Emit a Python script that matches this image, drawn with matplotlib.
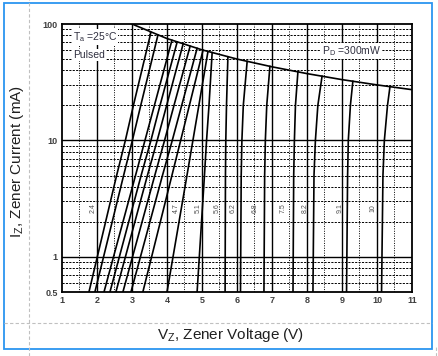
import matplotlib
matplotlib.use("Agg")
import matplotlib.pyplot as plt
from matplotlib.lines import Line2D
from matplotlib.patches import Rectangle

plt.rcParams["mathtext.fontset"] = "custom"
plt.rcParams["mathtext.rm"] = "Liberation Sans"
plt.rcParams["mathtext.it"] = "Liberation Sans:italic"
plt.rcParams["mathtext.bf"] = "Liberation Sans:bold"

# ---------------- data ----------------
curve_labels = ["2.4", None, None, None, None, None, None, None, "4.7", "5.1",
                "5.6", "6.2", "6.8", "7.5", "8.2", "9.1", "10"]
# currents (mA) at which each curve's voltage was read
i_points = [0.5, 5, 10, 20]
# Zener voltage at 0.5, 5, 10, 20 mA
v_at_05 = [1.77, 1.94, 2.20, 2.37, 2.54, 2.74, 2.97, 3.31, 4.00, 4.86,
           5.66, 6.10, 6.77, 7.60, 8.17, 9.13, 10.13]
v_at_5 = [2.56, 2.76, 3.10, 3.26, 3.44, 3.65, 3.87, 4.14, 4.57, 5.07,
          5.67, 6.12, 6.79, 7.62, 8.20, 9.16, 10.17]
v_at_10 = [2.81, 3.01, 3.37, 3.54, 3.72, 3.93, 4.15, 4.39, 4.74, 5.13,
           5.68, 6.14, 6.81, 7.64, 8.24, 9.18, 10.21]
v_at_20 = [3.04, 3.25, 3.64, 3.80, 3.99, 4.20, 4.42, 4.64, 4.91, 5.20,
           5.70, 6.18, 6.85, 7.67, 8.31, 9.24, 10.30]
# top end of each curve (on the Pd curve)
v_at_top = [3.54, 3.74, 4.14, 4.29, 4.46, 4.66, 4.86, 5.03, 5.17, 5.29,
            5.74, 6.29, 6.94, 7.74, 8.43, 9.31, 10.37]
i_at_top = [84.7, 80.2, 72.4, 70.0, 67.3, 64.4, 61.8, 59.7, 58.0, 56.8,
            52.3, 47.7, 43.2, 38.8, 35.6, 32.2, 28.9]

# label positions (voltage) for the curve labels
label_v = [1.88, None, None, None, None, None, None, None, 4.28, 4.89,
           5.43, 5.89, 6.51, 7.31, 7.94, 8.94, 9.89]
label_i = 2.64

# Power dissipation limit curve (Pd = 300 mW), read points
pd_v = [3, 4, 5, 6, 7, 8, 9, 10, 11]
pd_i = [100, 75, 60, 50, 42.9, 37.5, 33.3, 30, 27.3]

x_ticks = [1, 2, 3, 4, 5, 6, 7, 8, 9, 10, 11]
y_ticks = [0.5, 1, 10, 100]
y_tick_labels = ["0.5", "1", "10", "100"]

# ---------------- figure ----------------
W, H = 439, 356
fig = plt.figure(figsize=(W / 100, H / 100), dpi=100)
fig.patch.set_facecolor("white")

ax = fig.add_axes([62 / W, (H - 292) / H, 350 / W, 268 / H])
ax.set_yscale("log")
ax.set_xlim(1, 11)
ax.set_ylim(0.5, 100)

# grid
dash = (0, (2.2, 1.3))
for v in [1.5 + k for k in range(10)]:
    ax.axvline(v, color="black", lw=0.7, ls=(0, (1, 1.5)), zorder=1)
for v in range(2, 11):
    ax.axvline(v, color="black", lw=1.0, zorder=1)
minor_i = [0.6, 0.7, 0.8, 0.9] + list(range(2, 10)) + [20, 30, 40, 50, 60, 70, 80, 90]
for i in minor_i:
    ax.axhline(i, color="black", lw=0.7, ls=dash, zorder=1)
for i in [1, 10]:
    ax.axhline(i, color="black", lw=1.0, zorder=1)

# zener curves: points below the top end, then the top end
for k in range(len(v_at_05)):
    vs = [v_at_05[k], v_at_5[k], v_at_10[k], v_at_20[k]]
    pv = [v for v, i in zip(vs, i_points) if i < i_at_top[k]] + [v_at_top[k]]
    pi = [i for i in i_points if i < i_at_top[k]] + [i_at_top[k]]
    ax.plot(pv, pi, color="black", lw=1.2, zorder=3, solid_joinstyle="round")

# Pd curve
ax.plot(pd_v, pd_i, color="black", lw=1.2, zorder=3)

# curve labels
for lab, lv in zip(curve_labels, label_v):
    if lab is None:
        continue
    ax.text(lv, label_i, lab, rotation=90, ha="center", va="center",
            fontsize=5, color="#505050", family="Liberation Sans", zorder=4)

# annotations
ann_kw = dict(fontsize=7.5, color="#303040", family="Liberation Sans",
              va="center", ha="left", zorder=5,
              bbox=dict(facecolor="white", edgecolor="none", pad=0.8))
ax.text(1.31, 77, r"T$_\mathregular{a}$ =25°C", **ann_kw)
ax.text(1.31, 54, "Pulsed", **ann_kw)
ax.text(8.43, 58.6, r"P$_\mathregular{D}$ =300mW", **ann_kw)

# ticks
ax.set_xticks(x_ticks)
ax.set_xticklabels([str(t) for t in x_ticks])
ax.set_yticks(y_ticks)
ax.set_yticklabels(y_tick_labels)
ax.minorticks_off()
ax.tick_params(length=0, labelsize=6.5, labelcolor="#404040", pad=3)
for lab in ax.get_xticklabels() + ax.get_yticklabels():
    lab.set_family("Liberation Sans")
    lab.set_fontweight("bold")
for s in ax.spines.values():
    s.set_linewidth(1.3)
    s.set_color("black")
    s.set_zorder(6)

# axis titles (in figure pixels)
fig.text(231 / W, 1 - 335 / H, r"V$_\mathregular{Z}$, Zener Voltage (V)",
         ha="center", va="center", fontsize=11, family="Liberation Sans",
         color="#202020")
fig.text(17 / W, 1 - 161 / H, r"I$_\mathregular{Z}$, Zener Current (mA)",
         ha="center", va="center", rotation=90, fontsize=11,
         family="Liberation Sans", color="#202020")

# frame decorations
fig.add_artist(Line2D([29 / W, 29 / W], [0, 1], transform=fig.transFigure,
                      color="#c0c0c0", lw=0.8, ls=(0, (3, 2))))
fig.add_artist(Line2D([4.5 / W, 432 / W], [1 - 322.5 / H, 1 - 322.5 / H],
                      transform=fig.transFigure, color="#c0c0c0", lw=0.8,
                      ls=(0, (3, 2))))
fig.add_artist(Line2D([436 / W, 436 / W], [0, 1 - 346 / H], transform=fig.transFigure,
                      color="#c0c0c0", lw=0.8, ls=(0, (3, 2))))
fig.add_artist(Rectangle((4.5 / W, 1 - 349 / H), (432.3 - 4.5) / W, (349 - 2.5) / H,
                         transform=fig.transFigure, fill=False,
                         edgecolor="#2b95f0", lw=1.3))

fig.savefig("out.png", dpi=100, facecolor="white")
